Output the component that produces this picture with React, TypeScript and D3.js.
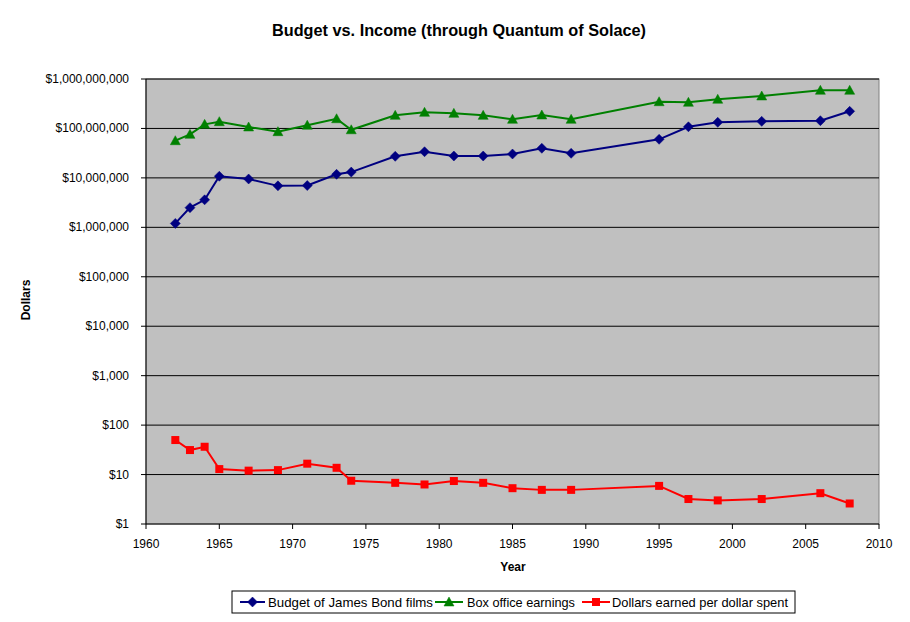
import React from "react";
import * as d3 from "d3";

const years = [1962, 1963, 1964, 1965, 1967, 1969, 1971, 1973, 1974, 1977, 1979, 1981, 1983, 1985, 1987, 1989, 1995, 1997, 1999, 2002, 2006, 2008];
const budget = [1.2e6, 2.5e6, 3.6e6, 10.8e6, 9.5e6, 6.9e6, 7.0e6, 11.8e6, 13.1e6, 27.3e6, 33.8e6, 27.7e6, 27.7e6, 30.4e6, 39.7e6, 31.4e6, 60.3e6, 108e6, 133e6, 139e6, 143.5e6, 222e6];
const boxOffice = [56.5e6, 76e6, 121e6, 137e6, 107e6, 86e6, 116e6, 157e6, 94e6, 184e6, 212e6, 202e6, 184e6, 153e6, 187e6, 153e6, 347e6, 338e6, 389e6, 453e6, 591e6, 591e6];
const ratio = [49.9, 31.3, 36.5, 12.9, 12.0, 12.3, 16.6, 13.7, 7.5, 6.8, 6.3, 7.4, 6.8, 5.3, 4.9, 4.9, 5.9, 3.2, 3.0, 3.2, 4.2, 2.6];

const xTicks = [1960, 1965, 1970, 1975, 1980, 1985, 1990, 1995, 2000, 2005, 2010];
const yTicks = [1, 10, 100, 1e3, 1e4, 1e5, 1e6, 1e7, 1e8, 1e9];

const seriesNames = ["Budget of James Bond films", "Box office earnings", "Dollars earned per dollar spent"];
const seriesColors = ["#000080", "#008000", "#FF0000"];
const seriesShapes = ["diamond", "triangle", "square"];

const W = 910, H = 622;
const L = 146, R = 879, T = 79, B = 524;
const font = "Arial, 'Liberation Sans', sans-serif";

function Marker({ shape, x, y, color }: { shape: string; x: number; y: number; color: string }) {
  if (shape === "diamond") {
    const s = 5;
    return <path d={`M${x},${y - s}L${x + s},${y}L${x},${y + s}L${x - s},${y}Z`} fill={color} stroke={color} strokeWidth={0.5} />;
  }
  if (shape === "triangle") {
    const s = 5;
    return <path d={`M${x},${y - s}L${x + s},${y + s * 0.8}L${x - s},${y + s * 0.8}Z`} fill={color} stroke={color} strokeWidth={0.5} />;
  }
  const s = 4;
  return <rect x={x - s} y={y - s} width={2 * s} height={2 * s} fill={color} />;
}

export default function App() {
  const x = d3.scaleLinear().domain([1960, 2010]).range([L, R]);
  const y = d3.scaleLog().domain([1, 1e9]).range([B, T]);
  const fmt = d3.format(",");
  const data = [budget, boxOffice, ratio];
  const line = d3.line<[number, number]>().x(d => x(d[0])).y(d => y(d[1]));

  const legendLine = [[240, 265], [435, 463], [582, 610]];
  const legendText = [[268, 165], [467, 108], [612, 176]];

  return (
    <svg width={W} height={H} style={{ position: "absolute", left: 0, top: 0, background: "#fff" }} fontFamily={font}>
      <rect x={0} y={0} width={W} height={H} fill="#fff" />
      <text x={459} y={36} textAnchor="middle" fontSize={16} fontWeight="bold" textLength={374} lengthAdjust="spacingAndGlyphs">Budget vs. Income (through Quantum of Solace)</text>
      <rect x={L} y={T} width={R - L} height={B - T} fill="#C0C0C0" stroke="#808080" strokeWidth={1} />
      {yTicks.map(t => (
        <g key={t}>
          {t > 1 && <line x1={L} x2={R} y1={y(t)} y2={y(t)} stroke="#000" strokeWidth={1} />}
          <line x1={L - 5} x2={L} y1={y(t)} y2={y(t)} stroke="#000" />
          <text x={129} y={y(t) + 4} textAnchor="end" fontSize={12}>${fmt(t)}</text>
        </g>
      ))}
      <line x1={L} x2={L} y1={T} y2={B} stroke="#000" />
      <line x1={L} x2={R} y1={B} y2={B} stroke="#000" />
      {xTicks.map(t => (
        <g key={t}>
          <line x1={x(t)} x2={x(t)} y1={B} y2={B + 5} stroke="#000" />
          <text x={x(t)} y={B + 24} textAnchor="middle" fontSize={12}>{t}</text>
        </g>
      ))}
      <text x={513} y={571} textAnchor="middle" fontSize={12} fontWeight="bold">Year</text>
      <text transform={`translate(30,300) rotate(-90)`} textAnchor="middle" fontSize={12} fontWeight="bold">Dollars</text>
      {data.map((vals, i) => {
        const pts = years.map((yr, j) => [yr, vals[j]] as [number, number]);
        return (
          <g key={i}>
            <path d={line(pts) || ""} fill="none" stroke={seriesColors[i]} strokeWidth={2} />
            {pts.map((p, j) => <Marker key={j} shape={seriesShapes[i]} x={x(p[0])} y={y(p[1])} color={seriesColors[i]} />)}
          </g>
        );
      })}
      <rect x={232} y={591} width={563} height={22} fill="#fff" stroke="#000" />
      {seriesNames.map((n, i) => (
        <g key={n}>
          <line x1={legendLine[i][0]} x2={legendLine[i][1]} y1={602} y2={602} stroke={seriesColors[i]} strokeWidth={2} />
          <Marker shape={seriesShapes[i]} x={(legendLine[i][0] + legendLine[i][1]) / 2} y={602} color={seriesColors[i]} />
          <text x={legendText[i][0]} y={606.5} fontSize={13} textLength={legendText[i][1]} lengthAdjust="spacingAndGlyphs">{n}</text>
        </g>
      ))}
    </svg>
  );
}
